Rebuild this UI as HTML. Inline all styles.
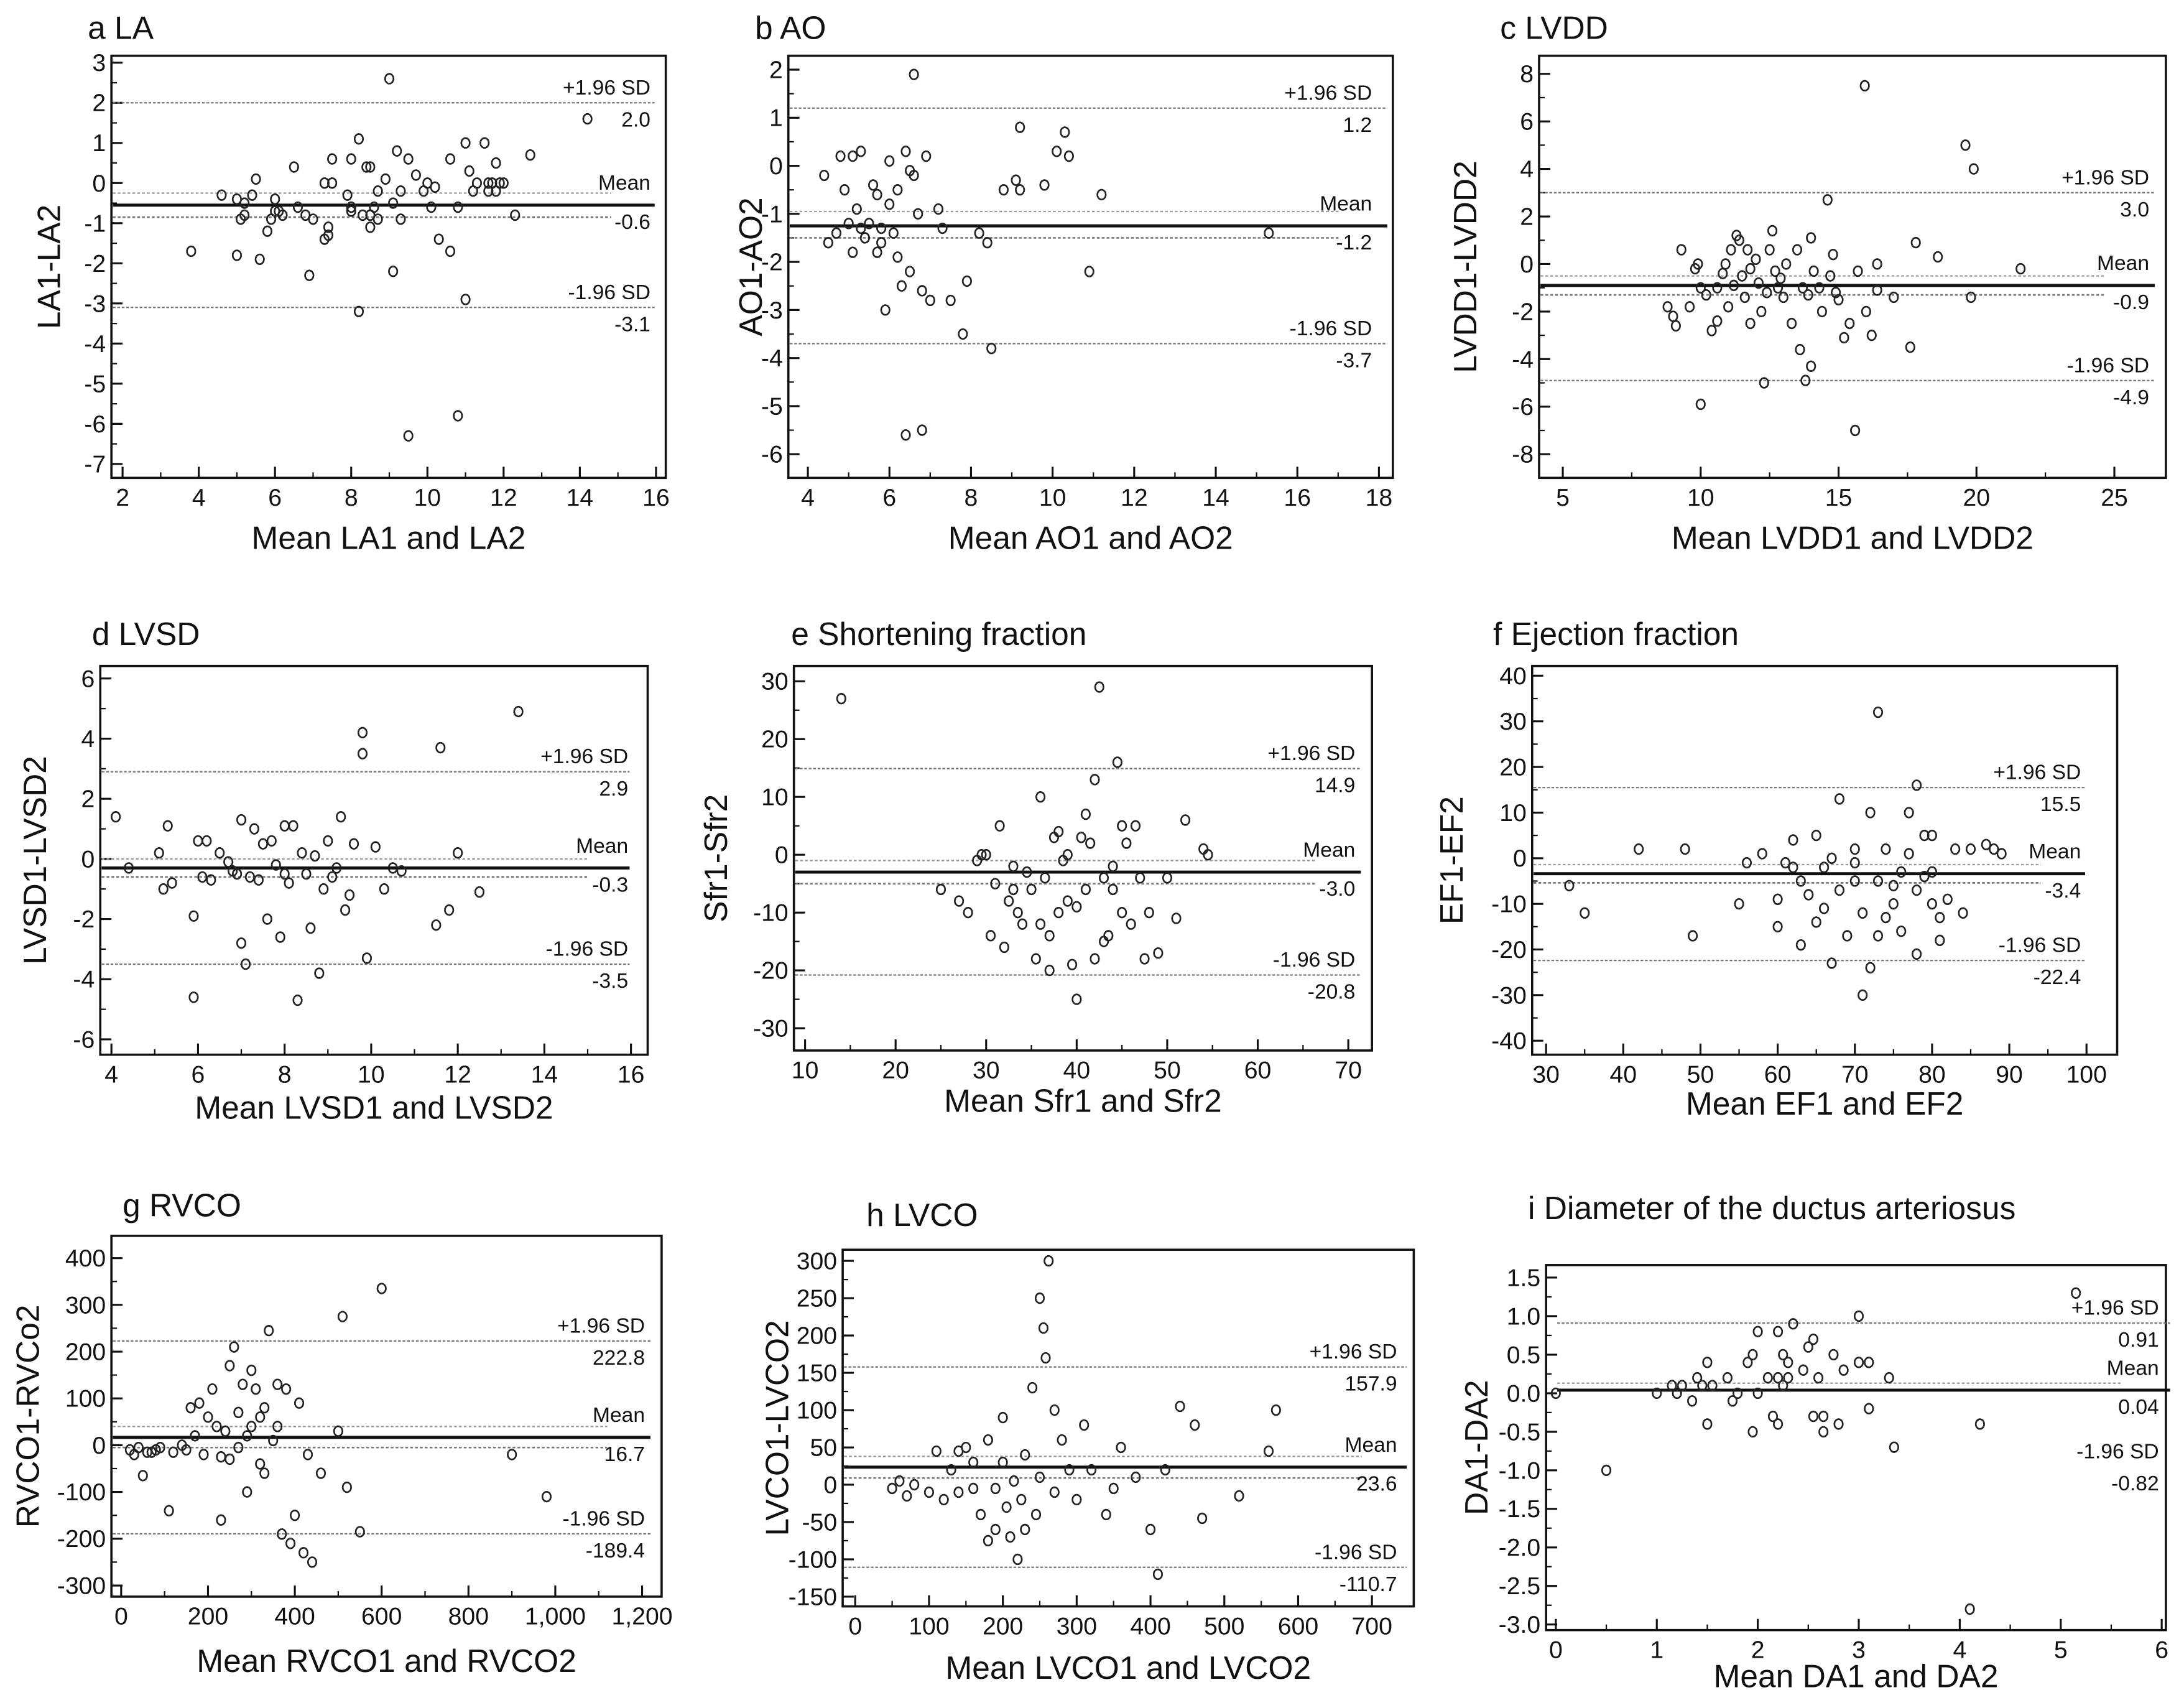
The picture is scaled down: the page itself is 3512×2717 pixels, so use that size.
<!DOCTYPE html>
<html><head><meta charset="utf-8"><style>
html,body{margin:0;padding:0;background:#fff;}
svg{display:block;}
text{font-family:"Liberation Sans",sans-serif;fill:#111;}
</style></head><body>
<svg id="fig" xmlns="http://www.w3.org/2000/svg" width="3512" height="2717" viewBox="0 0 1568 1213" preserveAspectRatio="none"></svg>
<script>
const laPts=[[3.8,-1.7],[4.6,-0.3],[5,-0.4],[5.1,-0.9],[5.2,-0.5],[5,-1.8],[5.4,-0.3],[5.2,-0.8],[5.5,0.1],[5.6,-1.9],[5.8,-1.2],[6,-0.4],[6,-0.7],[5.9,-0.9],[6.1,-0.7],[6.2,-0.8],[6.5,0.4],[6.6,-0.6],[6.8,-0.8],[7,-0.9],[6.9,-2.3],[7.3,-1.4],[7.3,0],[7.4,-1.1],[7.4,-1.3],[7.5,0],[7.5,0.6],[7.9,-0.3],[8,0.6],[8,-0.6],[8,-0.7],[8.2,1.1],[8.2,-3.2],[8.3,-0.8],[8.4,0.4],[8.5,0.4],[8.5,-0.8],[8.5,-1.1],[8.6,-0.6],[8.7,-0.2],[8.7,-0.9],[8.9,0.1],[9,2.6],[9.1,-0.5],[9.1,-2.2],[9.2,0.8],[9.3,-0.2],[9.3,-0.9],[9.5,0.6],[9.5,-6.3],[9.7,0.2],[9.9,-0.2],[10,0],[10.1,-0.6],[10.2,-0.1],[10.3,-1.4],[10.6,-1.7],[10.6,0.6],[10.8,-0.6],[10.8,-5.8],[11,1.0],[11,-2.9],[11.1,0.3],[11.2,-0.2],[11.3,0],[11.5,1.0],[11.6,0],[11.6,-0.2],[11.7,0],[11.8,0.5],[11.8,-0.2],[11.9,0],[12,0],[12.3,-0.8],[12.7,0.7],[14.2,1.6]];
const aoPts=[[4.4,-0.2],[4.5,-1.6],[4.8,0.2],[4.9,-0.5],[5,-1.2],[5.1,-1.8],[5.1,0.2],[5.3,0.3],[5.4,-1.5],[5.5,-1.2],[5.6,-0.4],[5.7,-1.8],[5.8,-1.3],[5.9,-3.0],[6,-0.8],[6.2,-1.9],[6.3,-2.5],[6.4,0.3],[6.4,-5.6],[6.5,-2.2],[6.6,1.9],[6.6,-0.2],[6.7,-1.0],[6.8,-2.6],[6.8,-5.5],[6.9,0.2],[7.0,-2.8],[7.2,-0.9],[7.5,-2.8],[7.8,-3.5],[7.9,-2.4],[8.2,-1.4],[8.4,-1.6],[8.5,-3.8],[8.8,-0.5],[9.1,-0.3],[9.2,0.8],[9.8,-0.4],[10.1,0.3],[10.3,0.7],[10.4,0.2],[10.9,-2.2],[11.2,-0.6],[15.3,-1.4],[5.2,-0.9],[5.7,-0.6],[6.1,-1.4],[6.5,-0.1],[6.0,0.1],[7.3,-1.3],[9.2,-0.5],[5.3,-1.3],[4.7,-1.4],[6.2,-0.5],[5.8,-1.6]];
const lvddPts=[[8.8,-1.8],[9,-2.2],[9.1,-2.6],[9.3,0.6],[9.6,-1.8],[9.8,-0.2],[9.9,0],[10,-5.9],[10,-1.0],[10.2,-1.3],[10.4,-2.8],[10.6,-2.4],[10.6,-1.0],[10.8,-0.4],[10.9,0],[11,-1.8],[11.1,0.6],[11.3,1.2],[11.4,1.0],[11.5,-0.5],[11.6,-1.4],[11.7,0.6],[11.8,-0.2],[12,0.2],[12.1,-0.8],[12.2,-2.0],[12.3,-5.0],[12.4,-1.2],[12.5,0.6],[12.6,1.4],[12.8,-1.0],[13,-1.4],[13.1,0],[13.3,-2.5],[13.5,0.6],[13.6,-3.6],[13.7,-1.0],[13.8,-4.9],[14,-4.3],[14,1.1],[14.1,-0.3],[14.3,-1.0],[14.4,-2.0],[14.6,2.7],[14.7,-0.5],[14.8,0.4],[15,-1.5],[15.2,-3.1],[15.4,-2.5],[15.6,-7.0],[15.7,-0.3],[16,-2.0],[16.2,-3.0],[16.4,0],[15.95,7.5],[17,-1.4],[17.6,-3.5],[17.8,0.9],[18.6,0.3],[19.6,5.0],[19.9,4.0],[19.8,-1.4],[21.6,-0.2],[12.9,-0.6],[13.9,-1.3],[11.8,-2.5],[14.9,-1.2],[16.4,-1.1],[11.2,-0.9],[12.7,-0.3]];
const lvsdPts=[[4.1,1.4],[4.4,-0.3],[5.1,0.2],[5.2,-1.0],[5.3,1.1],[5.4,-0.8],[5.9,-1.9],[5.9,-4.6],[6,0.6],[6.1,-0.6],[6.2,0.6],[6.3,-0.7],[6.5,0.2],[6.8,-0.4],[6.9,-0.5],[7,1.3],[7.1,-3.5],[7.2,-0.6],[7.3,1.0],[7.4,-0.7],[7.5,0.5],[7.6,-2.0],[7.7,0.6],[7.8,-0.2],[7.9,-2.6],[8,1.1],[8.1,-0.8],[8.2,1.1],[8.3,-4.7],[8.4,0.2],[8.5,-0.5],[8.6,-2.3],[8.7,0.1],[8.8,-3.8],[8.9,-1.0],[9,0.6],[9.1,-0.6],[9.3,1.4],[9.4,-1.7],[9.5,-1.2],[9.6,0.5],[9.8,3.5],[9.8,4.2],[9.9,-3.3],[10.1,0.4],[10.3,-1.0],[10.5,-0.3],[10.7,-0.4],[11.5,-2.2],[11.6,3.7],[11.8,-1.7],[12,0.2],[12.5,-1.1],[13.4,4.9],[7.0,-2.8],[9.2,-0.3],[8.0,-0.5],[6.7,-0.1]];
const sfrPts=[[14,27],[25,-6],[27,-8],[28,-10],[29,-1],[29.5,0],[30,0],[30.5,-14],[31,-5],[31.5,5],[32,-16],[32.5,-8],[33,-2],[33.5,-10],[34,-12],[34.5,-3],[35,-6],[35.5,-18],[36,10],[36.5,-4],[37,-14],[37.5,3],[38,-10],[38.5,-1],[39,-8],[39.5,-19],[40,-25],[40.5,3],[41,-6],[41.5,2],[42,13],[42.5,29],[43,-4],[43.5,-14],[44,-6],[44.5,16],[45,-10],[45.5,2],[46,-12],[46.5,5],[47,-4],[47.5,-18],[48,-10],[49,-17],[50,-4],[51,-11],[52,6],[54,1],[54.5,0],[36,-12],[38,4],[41,7],[43,-15],[45,5],[33,-6],[40,-9],[44,-2],[39,0],[37,-20],[42,-18]];
const efPts=[[33,-6],[35,-12],[42,2],[48,2],[49,-17],[55,-10],[56,-1],[58,1],[60,-15],[61,-1],[62,-2],[63,-5],[63,-19],[64,-8],[65,-14],[66,-11],[66,-2],[67,-23],[68,13],[68,-7],[69,-17],[70,-1],[71,-30],[71,-12],[72,-24],[72,10],[73,32],[73,-5],[74,-13],[74,2],[75,-6],[75,-10],[76,-16],[77,10],[77,1],[78,16],[78,-7],[79,-4],[79,5],[80,-3],[80,-10],[80,5],[81,-13],[81,-18],[82,-9],[83,2],[84,-12],[85,2],[87,3],[88,2],[89,1],[65,5],[70,2],[60,-9],[76,-3],[73,-17],[78,-21],[70,-5],[62,4],[67,0]];
const rvcoPts=[[20,-10],[30,-20],[40,-5],[50,-65],[60,-15],[70,-15],[80,-10],[90,-5],[110,-140],[120,-15],[140,0],[150,-10],[160,80],[170,20],[180,90],[190,-20],[200,60],[210,120],[220,40],[230,-160],[230,-25],[240,30],[250,170],[260,210],[270,70],[280,130],[290,-100],[300,160],[310,120],[320,60],[330,-60],[340,245],[350,10],[360,130],[370,-190],[380,120],[390,-210],[400,-150],[410,90],[420,-230],[430,-20],[440,-250],[460,-60],[500,30],[510,275],[520,-90],[550,-185],[600,335],[900,-20],[980,-110],[250,-30],[300,40],[330,80],[360,40],[270,-5],[320,-40],[290,20]];
const lvcoPts=[[50,-5],[60,5],[70,-15],[80,0],[100,-10],[110,45],[120,-20],[130,20],[140,45],[150,50],[160,-5],[170,-40],[180,60],[190,-60],[200,30],[205,-30],[210,-70],[215,5],[220,-100],[225,-20],[230,40],[240,130],[245,-40],[250,250],[255,210],[258,170],[262,300],[270,100],[280,60],[290,20],[300,-20],[320,20],[340,-40],[360,50],[380,10],[400,-60],[410,-120],[420,20],[440,105],[460,80],[470,-45],[520,-15],[560,45],[570,100],[190,-5],[160,30],[230,-60],[270,-10],[310,80],[350,-5],[200,90],[140,-10],[250,10],[180,-75]];
const daPts=[[0,0],[0.5,-1.0],[1.0,0],[1.15,0.1],[1.2,0],[1.25,0.1],[1.35,-0.1],[1.4,0.2],[1.45,0.1],[1.5,0.4],[1.5,-0.4],[1.55,0.1],[1.7,0.2],[1.75,-0.1],[1.8,0],[1.9,0.4],[1.95,0.5],[1.95,-0.5],[2.0,0.8],[2.0,0],[2.1,0.2],[2.15,-0.3],[2.2,0.8],[2.2,0.2],[2.2,-0.4],[2.25,0.5],[2.25,0.1],[2.3,0.4],[2.3,0.2],[2.35,0.9],[2.45,0.3],[2.5,0.6],[2.55,0.7],[2.55,-0.3],[2.6,0.2],[2.65,-0.3],[2.65,-0.5],[2.75,0.5],[2.8,-0.4],[2.85,0.3],[3.0,1.0],[3.0,0.4],[3.1,0.4],[3.1,-0.2],[3.3,0.2],[3.35,-0.7],[4.1,-2.8],[4.2,-0.4],[5.15,1.3]];
// limits of agreement: [upper, mean, lower, ciHigh, ciLow]
const laLines=[2.0,-0.55,-3.1,-0.25,-0.85];
const aoLines=[1.2,-1.25,-3.7,-0.95,-1.5];
const lvddLines=[3.0,-0.9,-4.9,-0.5,-1.3];
const lvsdLines=[2.9,-0.3,-3.5,0.0,-0.6];
const sfrLines=[14.9,-3.0,-20.8,-1.0,-5.0];
const efLines=[15.5,-3.4,-22.4,-1.4,-5.4];
const rvcoLines=[222.8,16.7,-189.4,40,-5];
const lvcoLines=[157.9,23.6,-110.7,38,9];
const daLines=[0.91,0.04,null,0.13,null];
const laLabels=['2.0','-0.6','-3.1'],aoLabels=['1.2','-1.2','-3.7'],lvddLabels=['3.0','-0.9','-4.9'],lvsdLabels=['2.9','-0.3','-3.5'],sfrLabels=['14.9','-3.0','-20.8'],efLabels=['15.5','-3.4','-22.4'],rvcoLabels=['222.8','16.7','-189.4'],lvcoLabels=['157.9','23.6','-110.7'],daLabels=['0.91','0.04','-0.82'];

const NS='http://www.w3.org/2000/svg';
const svg=document.getElementById('fig');
function mk(tag,attrs,parent){const e=document.createElementNS(NS,tag);for(const k in attrs)e.setAttribute(k,attrs[k]);(parent||svg).appendChild(e);return e;}
function tx(str,attrs,parent){const e=mk('text',attrs,parent);e.textContent=str;return e;}
function range(a,b,s){const r=[];const n=Math.round((b-a)/s);for(let i=0;i<=n;i++)r.push(+(a+i*s).toFixed(6));return r;}

const panels=[
 {id:'la',letter:'a',title:'LA',pts:laPts,lines:laLines,labels:laLabels,box:[80,40,478,343],xm:[2,88,16,471],ym:[3,45,-7,333],xt:range(2,16,2),yt:range(-7,3,1),fx:v=>v,fy:v=>v,xl:'Mean LA1 and LA2',yl:'LA1-LA2',tl:[63,28],xlY:394,ylX:43,lx:[80,470],lblX:467},
 {id:'ao',letter:'b',title:'AO',pts:aoPts,lines:aoLines,labels:aoLabels,box:[566,40,1000,343],xm:[4,580,18,990],ym:[2,50,-6,326],xt:range(4,18,2),yt:range(-6,2,1),fx:v=>v,fy:v=>v,xl:'Mean AO1 and AO2',yl:'AO1-AO2',tl:[542,28],xlY:394,ylX:547,lx:[566,996],lblX:985},
 {id:'lvdd',letter:'c',title:'LVDD',pts:lvddPts,lines:lvddLines,labels:lvddLabels,box:[1105,40,1555,343],xm:[5,1122,25,1518],ym:[8,53,-8,326],xt:range(5,25,5),yt:range(-8,8,2),fx:v=>v,fy:v=>v,xl:'Mean LVDD1 and LVDD2',yl:'LVDD1-LVDD2',tl:[1077,28],xlY:394,ylX:1060,lx:[1105,1547],lblX:1543},
 {id:'lvsd',letter:'d',title:'LVSD',pts:lvsdPts,lines:lvsdLines,labels:lvsdLabels,box:[72,478,465,757],xm:[4,80,16,453],ym:[6,487,-6,746],xt:range(4,16,2),yt:range(-6,6,2),fx:v=>v,fy:v=>v,xl:'Mean LVSD1 and LVSD2',yl:'LVSD1-LVSD2',tl:[66,463],xlY:803,ylX:33,lx:[72,452],lblX:451},
 {id:'sfr',letter:'e',title:'Shortening fraction',pts:sfrPts,lines:sfrLines,labels:sfrLabels,box:[570,478,985,754],xm:[10,578,70,968],ym:[30,489,-30,738],xt:range(10,70,10),yt:range(-30,30,10),fx:v=>v,fy:v=>v,xl:'Mean Sfr1 and Sfr2',yl:'Sfr1-Sfr2',tl:[568,463],xlY:798,ylX:522,lx:[570,977],lblX:973},
 {id:'ef',letter:'f',title:'Ejection fraction',pts:efPts,lines:efLines,labels:efLabels,box:[1100,478,1520,757],xm:[30,1110,100,1498],ym:[40,485,-40,747],xt:range(30,100,10),yt:range(-40,40,10),fx:v=>v,fy:v=>v,xl:'Mean EF1 and EF2',yl:'EF1-EF2',tl:[1072,463],xlY:800,ylX:1050,lx:[1100,1497],lblX:1494},
 {id:'rvco',letter:'g',title:'RVCO',pts:rvcoPts,lines:rvcoLines,labels:rvcoLabels,box:[80,887,475,1146],xm:[0,87,1200,461],ym:[400,903,-300,1138],xt:range(0,1200,200),yt:range(-300,400,100),fx:v=>v>=1000?(v/1000|0)+','+String(v%1000).padStart(3,'0'):v,fy:v=>v,xl:'Mean RVCO1 and RVCO2',yl:'RVCO1-RVCo2',tl:[88,873],xlY:1200,ylX:28,lx:[80,467],lblX:463},
 {id:'lvco',letter:'h',title:'LVCO',pts:lvcoPts,lines:lvcoLines,labels:lvcoLabels,box:[605,897,1015,1153],xm:[0,614,700,985],ym:[300,905,-150,1146],xt:range(0,700,100),yt:range(-150,300,50),fx:v=>v,fy:v=>v,xl:'Mean LVCO1 and LVCO2',yl:'LVCO1-LVCO2',tl:[622,880],xlY:1205,ylX:566,lx:[605,1010],lblX:1003},
 {id:'da',letter:'i',title:'Diameter of the ductus arteriosus',pts:daPts,lines:daLines,labels:daLabels,box:[1110,908,1555,1170],xm:[0,1117,6,1552],ym:[1.5,917,-3.0,1166],xt:range(0,6,1),yt:range(-3,1.5,0.5),fx:v=>v,fy:v=>v.toFixed(1),xl:'Mean DA1 and DA2',yl:'DA1-DA2',tl:[1097,875],xlY:1211,ylX:1068,lx:[1117,1558],lblX:1550}
];

panels.forEach(p=>{
 const g=mk('g',{});
 
 
 const X=v=>p.xm[1]+(v-p.xm[0])*(p.xm[3]-p.xm[1])/(p.xm[2]-p.xm[0]);
 const Y=v=>p.ym[1]+(v-p.ym[0])*(p.ym[3]-p.ym[1])/(p.ym[2]-p.ym[0]);
 const [x0,y0,x1,y1]=p.box;
 const t=tx(p.letter+'  '+p.title,{x:p.tl[0],y:p.tl[1],'font-size':23},g);
 
 
 const fr=mk('rect',{x:x0,y:y0,width:x1-x0,height:y1-y0,fill:'none',stroke:'#111','stroke-width':1.6},g);
 
 
 const xstep=p.xt[1]-p.xt[0];
 p.xt.forEach((v,i)=>{
  const px=X(v);
  mk('line',{x1:px,x2:px,y1:y1,y2:y1-8,stroke:'#111','stroke-width':1.4},g);
  if(i<p.xt.length-1){const mx=X(v+xstep/2);mk('line',{x1:mx,x2:mx,y1:y1,y2:y1-4,stroke:'#111','stroke-width':1},g);}
  const l=tx(String(p.fx(v)),{x:px,y:y1+20,'font-size':17.5,'text-anchor':'middle'},g);
  
  
 });
 const ystep=p.yt[1]-p.yt[0];
 p.yt.forEach((v,i)=>{
  const py=Y(v);
  mk('line',{x1:x0,x2:x0+8,y1:py,y2:py,stroke:'#111','stroke-width':1.4},g);
  if(i<p.yt.length-1){const my=Y(v+ystep/2);mk('line',{x1:x0,x2:x0+4,y1:my,y2:my,stroke:'#111','stroke-width':1},g);}
  const l=tx(String(p.fy(v)),{x:x0-4,y:py+6,'font-size':17.5,'text-anchor':'end'},g);
  
  
 });
 const xl=tx(p.xl,{x:(x0+x1)/2,y:p.xlY,'font-size':23,'text-anchor':'middle'},g);
 
 
 const yc=(y0+y1)/2;
 const yl=tx(p.yl,{x:p.ylX,y:yc,'font-size':23,'text-anchor':'middle',transform:'rotate(-90 '+p.ylX+' '+yc+')'},g);
 
 
 const [up,mean,lo,ch,cl]=p.lines;
 const hl=(v,name,attrs)=>{const e=mk('line',Object.assign({x1:p.lx[0]+1,x2:p.lx[1],y1:Y(v),y2:Y(v)},attrs),g);};
 const ciEnd=p.lx[1]-(p.lx[1]-p.lx[0])*0.08;
 if(ch!=null){const e=mk('line',{x1:p.lx[0]+1,x2:ciEnd,y1:Y(ch),y2:Y(ch),stroke:'#999','stroke-width':1,'stroke-dasharray':'2 1.5'},g);}
 if(cl!=null){const e=mk('line',{x1:p.lx[0]+1,x2:ciEnd,y1:Y(cl),y2:Y(cl),stroke:'#777','stroke-width':1.2,'stroke-dasharray':'2 1.5'},g);}
 hl(up,p.id+'-upper-loa',{stroke:'#777','stroke-width':1,'stroke-dasharray':'2 1.2'});
 hl(mean,p.id+'-mean-line',{stroke:'#111','stroke-width':2.2});
 if(lo!=null)hl(lo,p.id+'-lower-loa',{stroke:'#777','stroke-width':1,'stroke-dasharray':'2 1.2'});
 const lab=(s,y,n)=>{const e=tx(s,{x:p.lblX,y:y,'font-size':15,'text-anchor':'end'},g);};
 lab('+1.96 SD',Y(up)-6,p.id+'-upper-label');lab(p.labels[0],Y(up)+17,p.id+'-upper-value');
 lab('Mean',Y(mean)-11,p.id+'-mean-label');lab(p.labels[1],Y(mean)+17,p.id+'-mean-value');
 const loY=lo!=null?Y(lo):Y(mean)+55;
 lab('-1.96 SD',loY-6,p.id+'-lower-label');lab(p.labels[2],loY+17,p.id+'-lower-value');
 p.pts.forEach(d=>{
  const c=mk('ellipse',{cx:X(d[0]),cy:Y(d[1]),rx:3,ry:3.5,fill:'none',stroke:'#222','stroke-width':1.2},g);
  
  
 });
});
</script>
</body></html>
